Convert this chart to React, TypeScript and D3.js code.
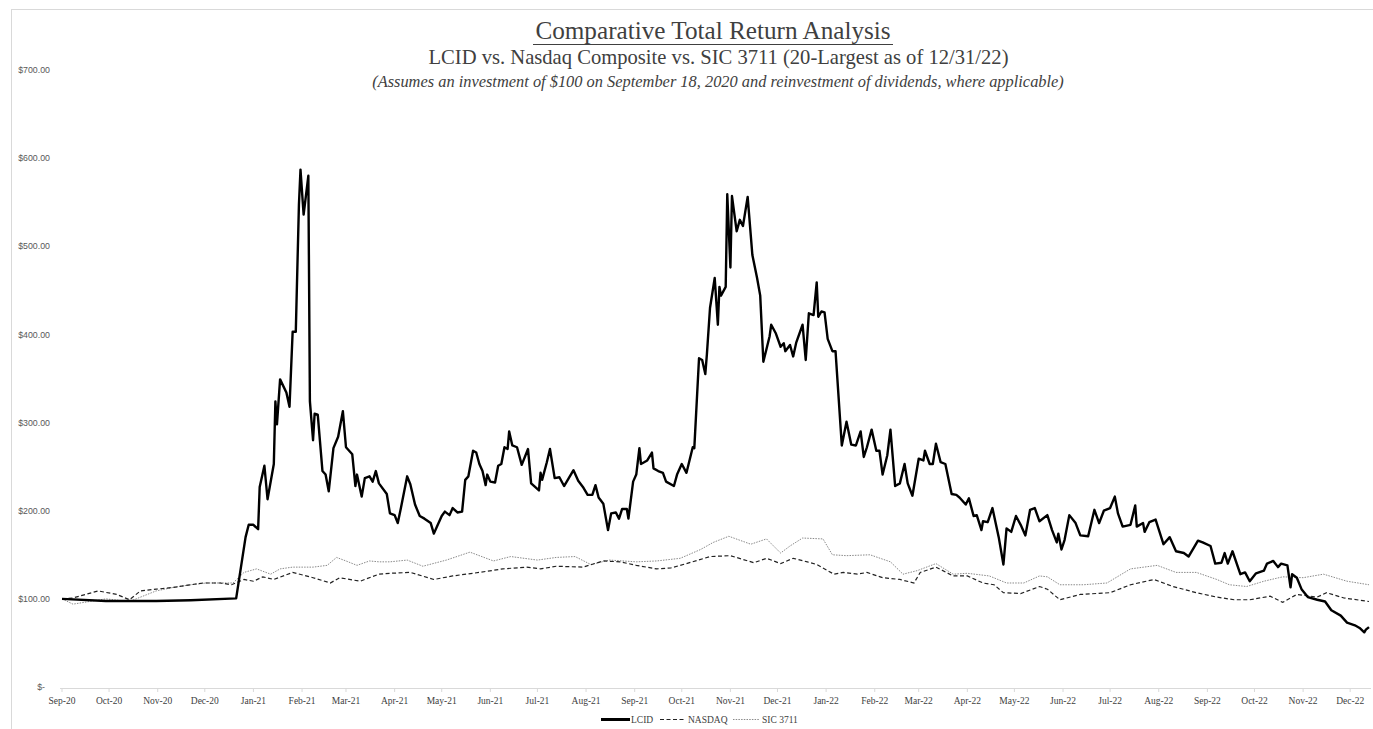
import React from "react";
import * as d3 from "d3";

const title = "Comparative Total Return Analysis";
const subtitle = "LCID vs. Nasdaq Composite vs. SIC 3711 (20-Largest as of 12/31/22)";
const note = "(Assumes an investment of $100 on September 18, 2020 and reinvestment of dividends, where applicable)";

const yTicks = [0, 100, 200, 300, 400, 500, 600, 700];
const tickMonths = { start: "2020-09-18", end: "2022-12-18" };
const domainDates = ["2020-09-18", "2022-12-30"];

const lcid: [string, number][] = [
  ["2020-09-18", 100], ["2020-10-16", 97.5], ["2020-11-17", 97.5], ["2020-12-09", 98.5], ["2021-01-07", 100.5],
  ["2021-01-13", 170], ["2021-01-15", 184], ["2021-01-18", 184], ["2021-01-21", 179], ["2021-01-22", 227],
  ["2021-01-25", 251], ["2021-01-27", 213], ["2021-01-31", 253], ["2021-02-01", 324], ["2021-02-02", 298],
  ["2021-02-04", 349], ["2021-02-08", 334], ["2021-02-10", 318], ["2021-02-12", 403], ["2021-02-14", 403],
  ["2021-02-16", 547], ["2021-02-17", 587], ["2021-02-19", 536], ["2021-02-22", 580], ["2021-02-23", 324],
  ["2021-02-25", 280], ["2021-02-26", 310], ["2021-02-28", 309], ["2021-03-03", 245], ["2021-03-05", 241],
  ["2021-03-07", 222], ["2021-03-10", 271], ["2021-03-13", 284], ["2021-03-16", 313], ["2021-03-18", 272],
  ["2021-03-22", 264], ["2021-03-24", 228], ["2021-03-25", 241], ["2021-03-28", 216], ["2021-03-30", 237],
  ["2021-04-02", 239], ["2021-04-04", 233], ["2021-04-06", 245], ["2021-04-08", 231], ["2021-04-13", 219],
  ["2021-04-15", 197], ["2021-04-18", 195], ["2021-04-20", 186], ["2021-04-22", 203], ["2021-04-26", 239],
  ["2021-04-28", 230], ["2021-05-01", 207], ["2021-05-04", 194], ["2021-05-07", 191], ["2021-05-11", 186],
  ["2021-05-13", 174], ["2021-05-15", 182], ["2021-05-18", 194], ["2021-05-20", 199], ["2021-05-23", 195],
  ["2021-05-25", 203], ["2021-05-28", 198], ["2021-05-31", 199], ["2021-06-02", 235], ["2021-06-04", 239],
  ["2021-06-07", 268], ["2021-06-09", 266], ["2021-06-11", 253], ["2021-06-13", 245], ["2021-06-15", 229],
  ["2021-06-16", 241], ["2021-06-18", 233], ["2021-06-21", 232], ["2021-06-23", 251], ["2021-06-25", 253],
  ["2021-06-27", 272], ["2021-06-29", 270], ["2021-06-30", 290], ["2021-07-02", 274], ["2021-07-05", 272],
  ["2021-07-08", 252], ["2021-07-12", 270], ["2021-07-14", 231], ["2021-07-19", 223], ["2021-07-20", 243],
  ["2021-07-21", 235], ["2021-07-24", 255], ["2021-07-26", 270], ["2021-07-29", 237], ["2021-08-01", 238],
  ["2021-08-04", 228], ["2021-08-07", 237], ["2021-08-10", 246], ["2021-08-13", 234], ["2021-08-16", 227],
  ["2021-08-19", 218], ["2021-08-22", 218], ["2021-08-24", 229], ["2021-08-26", 215], ["2021-08-29", 208],
  ["2021-09-01", 178], ["2021-09-03", 197], ["2021-09-06", 198], ["2021-09-08", 191], ["2021-09-10", 202],
  ["2021-09-13", 202], ["2021-09-14", 191], ["2021-09-17", 233], ["2021-09-19", 241], ["2021-09-21", 271],
  ["2021-09-22", 253], ["2021-09-26", 257], ["2021-09-29", 266], ["2021-09-30", 248], ["2021-10-03", 245],
  ["2021-10-06", 243], ["2021-10-08", 233], ["2021-10-13", 228], ["2021-10-15", 241], ["2021-10-18", 253],
  ["2021-10-21", 243], ["2021-10-25", 272], ["2021-10-26", 271], ["2021-10-29", 373], ["2021-10-31", 371],
  ["2021-11-02", 355], ["2021-11-03", 377], ["2021-11-05", 430], ["2021-11-08", 464], ["2021-11-10", 411],
  ["2021-11-11", 454], ["2021-11-12", 444], ["2021-11-15", 454], ["2021-11-16", 559], ["2021-11-18", 476],
  ["2021-11-19", 557], ["2021-11-22", 517], ["2021-11-24", 530], ["2021-11-26", 523], ["2021-11-29", 556],
  ["2021-12-02", 490], ["2021-12-05", 464], ["2021-12-07", 444], ["2021-12-09", 369], ["2021-12-13", 398],
  ["2021-12-14", 411], ["2021-12-17", 401], ["2021-12-20", 386], ["2021-12-22", 390], ["2021-12-23", 381],
  ["2021-12-26", 388], ["2021-12-28", 375], ["2021-12-30", 391], ["2022-01-03", 411], ["2022-01-05", 371],
  ["2022-01-07", 424], ["2022-01-10", 422], ["2022-01-12", 459], ["2022-01-13", 420], ["2022-01-15", 426],
  ["2022-01-17", 425], ["2022-01-19", 395], ["2022-01-22", 381], ["2022-01-24", 381], ["2022-01-28", 274],
  ["2022-01-31", 301], ["2022-02-03", 275], ["2022-02-06", 274], ["2022-02-09", 290], ["2022-02-11", 261],
  ["2022-02-13", 272], ["2022-02-16", 292], ["2022-02-19", 268], ["2022-02-21", 268], ["2022-02-23", 241],
  ["2022-02-26", 263], ["2022-02-28", 292], ["2022-03-03", 228], ["2022-03-06", 231], ["2022-03-09", 253],
  ["2022-03-11", 231], ["2022-03-14", 217], ["2022-03-18", 259], ["2022-03-21", 257], ["2022-03-22", 268],
  ["2022-03-25", 253], ["2022-03-27", 253], ["2022-03-29", 276], ["2022-04-01", 255], ["2022-04-04", 253],
  ["2022-04-08", 219], ["2022-04-11", 218], ["2022-04-13", 215], ["2022-04-17", 207], ["2022-04-19", 214],
  ["2022-04-22", 194], ["2022-04-24", 195], ["2022-04-27", 178], ["2022-04-28", 188], ["2022-05-01", 187],
  ["2022-05-04", 203], ["2022-05-08", 170], ["2022-05-11", 139], ["2022-05-13", 180], ["2022-05-16", 176],
  ["2022-05-19", 194], ["2022-05-22", 184], ["2022-05-25", 172], ["2022-05-28", 201], ["2022-05-31", 203],
  ["2022-06-03", 188], ["2022-06-08", 195], ["2022-06-11", 178], ["2022-06-14", 164], ["2022-06-15", 174],
  ["2022-06-17", 156], ["2022-06-19", 167], ["2022-06-22", 195], ["2022-06-26", 186], ["2022-06-29", 172],
  ["2022-07-04", 171], ["2022-07-08", 201], ["2022-07-11", 186], ["2022-07-14", 200], ["2022-07-18", 203],
  ["2022-07-21", 216], ["2022-07-23", 197], ["2022-07-26", 182], ["2022-07-31", 184], ["2022-08-03", 206],
  ["2022-08-04", 182], ["2022-08-08", 186], ["2022-08-09", 176], ["2022-08-12", 187], ["2022-08-16", 190],
  ["2022-08-21", 162], ["2022-08-25", 170], ["2022-08-29", 154], ["2022-09-03", 152], ["2022-09-06", 148],
  ["2022-09-12", 166], ["2022-09-15", 164], ["2022-09-20", 160], ["2022-09-23", 140], ["2022-09-27", 141],
  ["2022-09-29", 152], ["2022-10-01", 140], ["2022-10-04", 154], ["2022-10-09", 128], ["2022-10-12", 130],
  ["2022-10-15", 120], ["2022-10-19", 129], ["2022-10-24", 132], ["2022-10-26", 140], ["2022-10-30", 143],
  ["2022-11-02", 136], ["2022-11-04", 140], ["2022-11-08", 138], ["2022-11-10", 113], ["2022-11-11", 128],
  ["2022-11-14", 124], ["2022-11-17", 111], ["2022-11-21", 102], ["2022-11-27", 99], ["2022-12-02", 97],
  ["2022-12-06", 87], ["2022-12-12", 81], ["2022-12-16", 73], ["2022-12-21", 70], ["2022-12-24", 67],
  ["2022-12-27", 62], ["2022-12-28", 65], ["2022-12-30", 68],
];

const nasdaq: [string, number][] = [
  ["2020-09-18", 100], ["2020-09-25", 101], ["2020-10-11", 109], ["2020-10-23", 105], ["2020-10-31", 99],
  ["2020-11-07", 109], ["2020-11-17", 111], ["2020-11-28", 113], ["2020-12-09", 116], ["2020-12-17", 118],
  ["2020-12-28", 118], ["2021-01-04", 116], ["2021-01-12", 122], ["2021-01-18", 120], ["2021-01-24", 125],
  ["2021-01-31", 122], ["2021-02-12", 130], ["2021-02-25", 124], ["2021-03-08", 118], ["2021-03-14", 124],
  ["2021-03-27", 120], ["2021-04-08", 128], ["2021-04-15", 129], ["2021-04-28", 130], ["2021-05-13", 122],
  ["2021-05-25", 126], ["2021-06-11", 130], ["2021-06-26", 134], ["2021-07-11", 136], ["2021-07-20", 134],
  ["2021-07-30", 137], ["2021-08-16", 136], ["2021-08-29", 143], ["2021-09-09", 142], ["2021-09-19", 138],
  ["2021-10-02", 134], ["2021-10-11", 135], ["2021-10-21", 140], ["2021-11-05", 148], ["2021-11-18", 149],
  ["2021-12-03", 141], ["2021-12-11", 146], ["2021-12-20", 140], ["2021-12-28", 146], ["2022-01-06", 142],
  ["2022-01-12", 139], ["2022-01-23", 128], ["2022-01-29", 130], ["2022-02-07", 128], ["2022-02-13", 130],
  ["2022-02-23", 124], ["2022-03-06", 122], ["2022-03-15", 118], ["2022-03-19", 130], ["2022-03-29", 136],
  ["2022-04-09", 126], ["2022-04-18", 126], ["2022-04-28", 118], ["2022-05-05", 116], ["2022-05-11", 107],
  ["2022-05-22", 106], ["2022-06-03", 114], ["2022-06-08", 111], ["2022-06-16", 99], ["2022-06-29", 105],
  ["2022-07-18", 107], ["2022-07-31", 116], ["2022-08-15", 122], ["2022-08-27", 114], ["2022-09-11", 107],
  ["2022-09-24", 102], ["2022-10-05", 99], ["2022-10-15", 99], ["2022-10-28", 103], ["2022-11-05", 96],
  ["2022-11-14", 105], ["2022-11-27", 102], ["2022-12-03", 107], ["2022-12-14", 101], ["2022-12-30", 97],
];

const sic3711: [string, number][] = [
  ["2020-09-18", 100], ["2020-09-25", 94], ["2020-10-16", 100], ["2020-10-31", 97], ["2020-11-17", 109],
  ["2020-11-28", 113], ["2020-12-09", 116], ["2020-12-19", 118], ["2021-01-05", 118], ["2021-01-12", 130],
  ["2021-01-20", 134], ["2021-01-29", 128], ["2021-02-04", 134], ["2021-02-12", 136], ["2021-02-25", 136],
  ["2021-03-06", 138], ["2021-03-12", 147], ["2021-03-18", 143], ["2021-03-25", 138], ["2021-04-02", 143],
  ["2021-04-08", 142], ["2021-04-15", 142], ["2021-04-26", 144], ["2021-05-06", 137], ["2021-05-21", 144],
  ["2021-06-05", 153], ["2021-06-20", 143], ["2021-07-01", 148], ["2021-07-18", 144], ["2021-07-30", 147],
  ["2021-08-11", 148], ["2021-08-21", 139], ["2021-09-02", 144], ["2021-09-19", 142], ["2021-10-02", 143],
  ["2021-10-17", 146], ["2021-10-30", 156], ["2021-11-07", 164], ["2021-11-17", 171], ["2021-12-01", 162],
  ["2021-12-11", 168], ["2021-12-20", 152], ["2021-12-26", 160], ["2022-01-03", 169], ["2022-01-16", 168],
  ["2022-01-22", 150], ["2022-01-31", 149], ["2022-02-15", 150], ["2022-02-28", 142], ["2022-03-08", 128],
  ["2022-03-17", 132], ["2022-03-29", 140], ["2022-04-09", 128], ["2022-04-18", 129], ["2022-05-02", 126],
  ["2022-05-13", 118], ["2022-05-24", 118], ["2022-06-03", 126], ["2022-06-08", 125], ["2022-06-16", 116],
  ["2022-07-01", 116], ["2022-07-16", 118], ["2022-07-31", 134], ["2022-08-17", 138], ["2022-08-29", 130],
  ["2022-09-11", 130], ["2022-09-24", 122], ["2022-10-02", 116], ["2022-10-13", 114], ["2022-10-24", 120],
  ["2022-11-05", 125], ["2022-11-18", 124], ["2022-12-01", 128], ["2022-12-16", 120], ["2022-12-30", 116],
];

const legendItems = ["LCID", "NASDAQ", "SIC 3711"];

const parse = d3.timeParse("%Y-%m-%d");

export default function App() {
  const x = d3
    .scaleTime()
    .domain(domainDates.map((d) => parse(d) as Date))
    .range([62, 1369]);
  const y = d3.scaleLinear().domain([0, 700]).range([687, 70]);

  const tickDates: Date[] = [];
  {
    const s = parse(tickMonths.start) as Date;
    const e = parse(tickMonths.end) as Date;
    let d = s;
    while (d <= e) {
      tickDates.push(d);
      d = d3.timeMonth.offset(d, 1);
    }
  }
  const fmt = d3.timeFormat("%b-%y");

  const line = d3
    .line<[string, number]>()
    .x((d) => x(parse(d[0]) as Date))
    .y((d) => y(d[1]));

  const serif = "'Liberation Serif', 'Times New Roman', serif";
  const sans = "'Liberation Sans', Arial, sans-serif";
  const textColor = "#404040";

  const yLabel = (v: number) => (v === 0 ? "$-" : "$" + d3.format(".2f")(v));

  return (
    <svg
      width={1373}
      height={729}
      style={{ position: "absolute", left: 0, top: 0, background: "#fff" }}
    >
      <rect x={0} y={0} width={1373} height={729} fill="#fff" />
      <rect x={11.5} y={9.5} width={1400} height={760} fill="none" stroke="#d9d9d9" strokeWidth={1} />

      <text x={713} y={39} textAnchor="middle" fontFamily={serif} fontSize={25.2} fill={textColor}>
        {title}
      </text>
      <line x1={533} x2={893} y1={44.5} y2={44.5} stroke={textColor} strokeWidth={1.2} />
      <text x={718.5} y={64} textAnchor="middle" fontFamily={serif} fontSize={20.6} fill={textColor}>
        {subtitle}
      </text>
      <text x={718} y={87} textAnchor="middle" fontFamily={serif} fontStyle="italic" fontSize={16.4} fill={textColor}>
        {note}
      </text>

      {yTicks.map((v) => (
        <text
          key={v}
          x={v === 0 ? 45 : 50}
          y={y(v)}
          dy="0.35em"
          textAnchor="end"
          fontFamily={sans}
          fontSize={8.8}
          fill="#595959"
        >
          {yLabel(v)}
        </text>
      ))}

      <line x1={60} x2={1371} y1={688.5} y2={688.5} stroke="#d9d9d9" strokeWidth={1} />
      {tickDates.map((d, i) => (
        <g key={i} transform={`translate(${x(d)},0)`}>
          <line y1={688} y2={692} stroke="#d9d9d9" />
          <text y={704} textAnchor="middle" fontFamily={serif} fontSize={9.5} fill={textColor}>
            {fmt(d)}
          </text>
        </g>
      ))}

      <path d={line(sic3711) || ""} fill="none" stroke="#8a8a8a" strokeWidth={1} strokeDasharray="1.5,1.2" />
      <path d={line(nasdaq) || ""} fill="none" stroke="#222" strokeWidth={1.2} strokeDasharray="4,2.5" />
      <path d={line(lcid) || ""} fill="none" stroke="#000" strokeWidth={2.4} strokeLinejoin="round" />

      <g fontFamily={serif} fontSize={9.5} fill={textColor}>
        <line x1={601} x2={630} y1={719.5} y2={719.5} stroke="#000" strokeWidth={3} />
        <text x={631} y={723}>{legendItems[0]}</text>
        <line x1={660} x2={686} y1={719.5} y2={719.5} stroke="#222" strokeWidth={1.2} strokeDasharray="4,2.5" />
        <text x={688} y={723}>{legendItems[1]}</text>
        <line x1={733} x2={760} y1={719.5} y2={719.5} stroke="#8a8a8a" strokeWidth={1} strokeDasharray="1.5,1.2" />
        <text x={762} y={723}>{legendItems[2]}</text>
      </g>
    </svg>
  );
}
